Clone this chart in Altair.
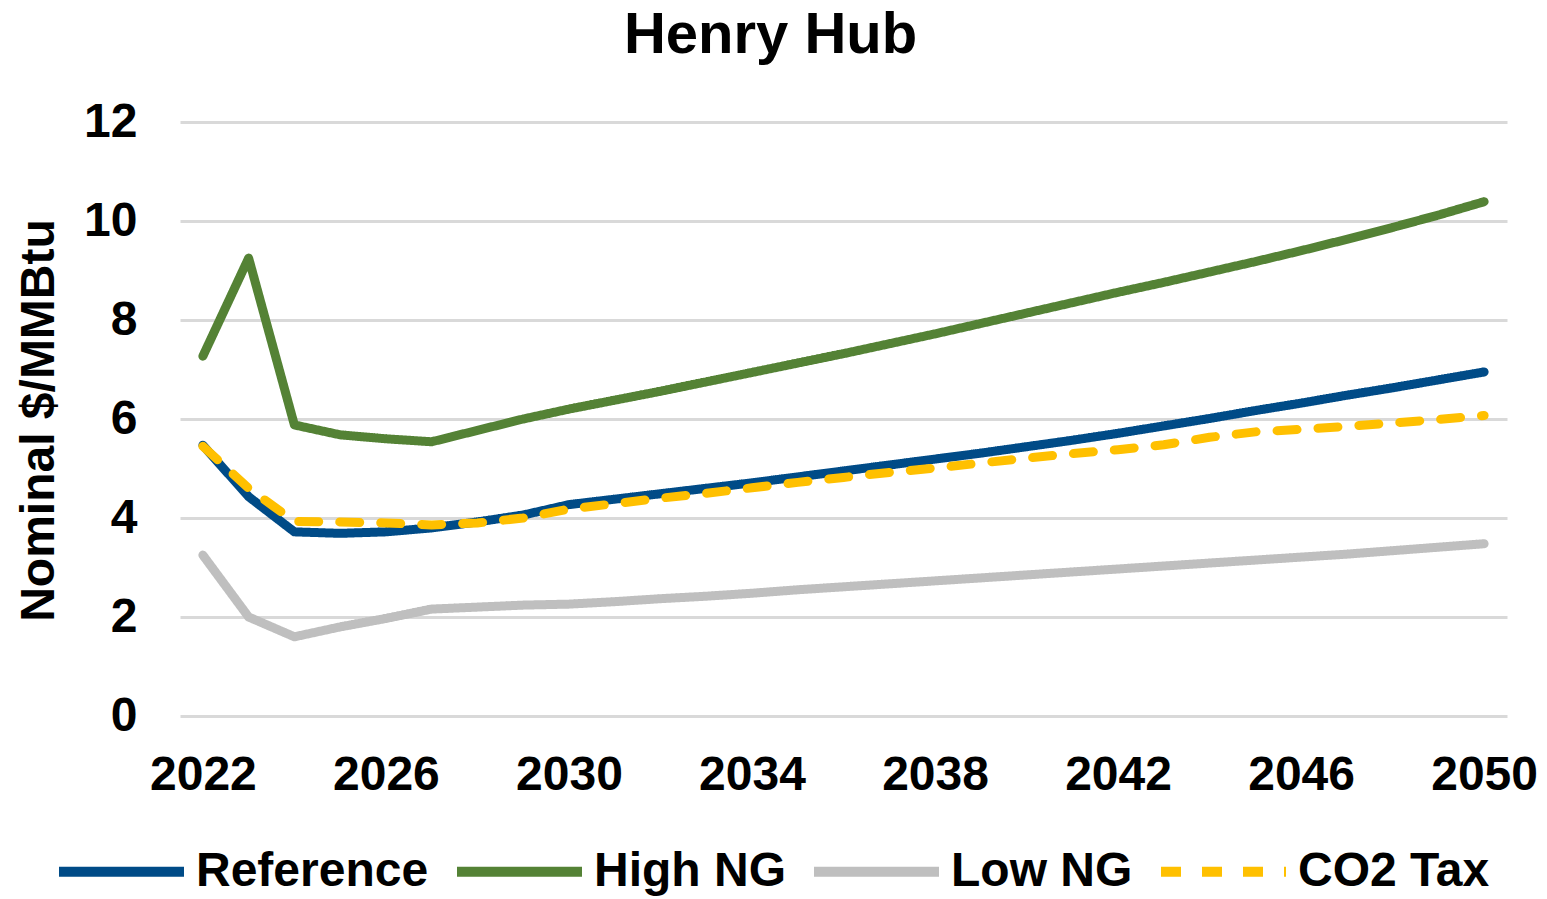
import altair as alt
import pandas as pd

years = list(range(2022, 2051))

reference = [5.47, 4.43, 3.72, 3.69, 3.72, 3.80, 3.92, 4.06, 4.27, 4.38,
             4.49, 4.60, 4.71, 4.83, 4.95, 5.07, 5.19, 5.31, 5.44, 5.57,
             5.71, 5.86, 6.01, 6.17, 6.32, 6.48, 6.63, 6.79, 6.95]
high_ng = [7.27, 9.25, 5.88, 5.68, 5.60, 5.54, 5.77, 6.00, 6.20, 6.38,
           6.56, 6.75, 6.94, 7.13, 7.32, 7.52, 7.72, 7.93, 8.14, 8.35,
           8.56, 8.76, 8.97, 9.18, 9.40, 9.63, 9.87, 10.12, 10.39]
low_ng = [3.25, 2.00, 1.60, 1.80, 1.97, 2.16, 2.20, 2.24, 2.26, 2.31,
          2.37, 2.42, 2.48, 2.55, 2.61, 2.67, 2.73, 2.79, 2.85, 2.91,
          2.97, 3.03, 3.09, 3.15, 3.21, 3.27, 3.34, 3.41, 3.48]
co2_tax = [5.45, 4.60, 3.93, 3.92, 3.90, 3.86, 3.90, 4.00, 4.18, 4.29,
           4.40, 4.50, 4.61, 4.72, 4.82, 4.92, 5.01, 5.11, 5.21, 5.30,
           5.38, 5.48, 5.63, 5.74, 5.79, 5.85, 5.92, 5.99, 6.07]

legend_order = ["Reference", "High NG", "Low NG", "CO2 Tax"]
colors = ["#004b87", "#548235", "#bfbfbf", "#ffc000"]
dashes = [[1, 0], [1, 0], [1, 0], [20, 21]]

x_ticks = [2022, 2026, 2030, 2034, 2038, 2042, 2046, 2050]
y_ticks = [0, 2, 4, 6, 8, 10, 12]

# drawing order: grey, green, blue, yellow dashed on top
series = [("Low NG", low_ng), ("High NG", high_ng),
          ("Reference", reference), ("CO2 Tax", co2_tax)]
rows = []
for name, vals in series:
    for yr, v in zip(years, vals):
        rows.append({"Year": yr, "Value": v, "Scenario": name})
df = pd.DataFrame(rows)

FONT = "Liberation Sans"


def make_legend():
    return alt.Legend(title=None, orient="none", legendX=-126, legendY=682,
                      direction="horizontal", symbolType="stroke",
                      symbolSize=15625, symbolStrokeWidth=10,
                      labelFontSize=48, labelFont=FONT,
                      labelFontWeight="bold", labelColor="#000000",
                      labelOffset=7, columnPadding=8, labelLimit=400)


chart = alt.Chart(df).mark_line(strokeWidth=9, strokeCap="round", strokeJoin="round").encode(
    x=alt.X("Year:Q",
            scale=alt.Scale(domain=[2021.5, 2050.5], nice=False, zero=False),
            axis=alt.Axis(values=x_ticks, format="d", title=None, grid=False,
                          domain=False, ticks=False, labelPadding=35,
                          labelFontSize=48, labelFont=FONT, labelFontWeight="bold",
                          labelColor="#000000", labelFlush=False)),
    y=alt.Y("Value:Q",
            scale=alt.Scale(domain=[0, 12], nice=False),
            axis=alt.Axis(values=y_ticks, title="Nominal $/MMBtu", grid=True,
                          gridColor="#d9d9d9", gridWidth=3, domain=False, ticks=False,
                          labelPadding=43, labelFontSize=48, labelFont=FONT,
                          labelFontWeight="bold", labelColor="#000000",
                          titleFontSize=48, titleFont=FONT, titleFontWeight="bold",
                          titleColor="#000000", titleX=-141, titleY=298,
                          titleAngle=270, titleAlign="center", titleBaseline="middle")),
    color=alt.Color("Scenario:N",
                    scale=alt.Scale(domain=legend_order, range=colors),
                    legend=make_legend()),
    strokeDash=alt.StrokeDash("Scenario:N",
                              scale=alt.Scale(domain=legend_order, range=dashes),
                              legend=make_legend()),
).properties(
    width=1327,
    height=594,
    background="#ffffff",
    title=alt.TitleParams("Henry Hub", fontSize=58, font=FONT, fontWeight="bold",
                          color="#000000", anchor="middle", dx=-73, offset=33),
    autosize=alt.AutoSizeParams(type="none"),
    padding={"left": 172, "top": 114, "right": 30, "bottom": 180},
).configure_view(stroke=None)

chart.save("out.html", embed_options={"renderer": "svg", "actions": False})
